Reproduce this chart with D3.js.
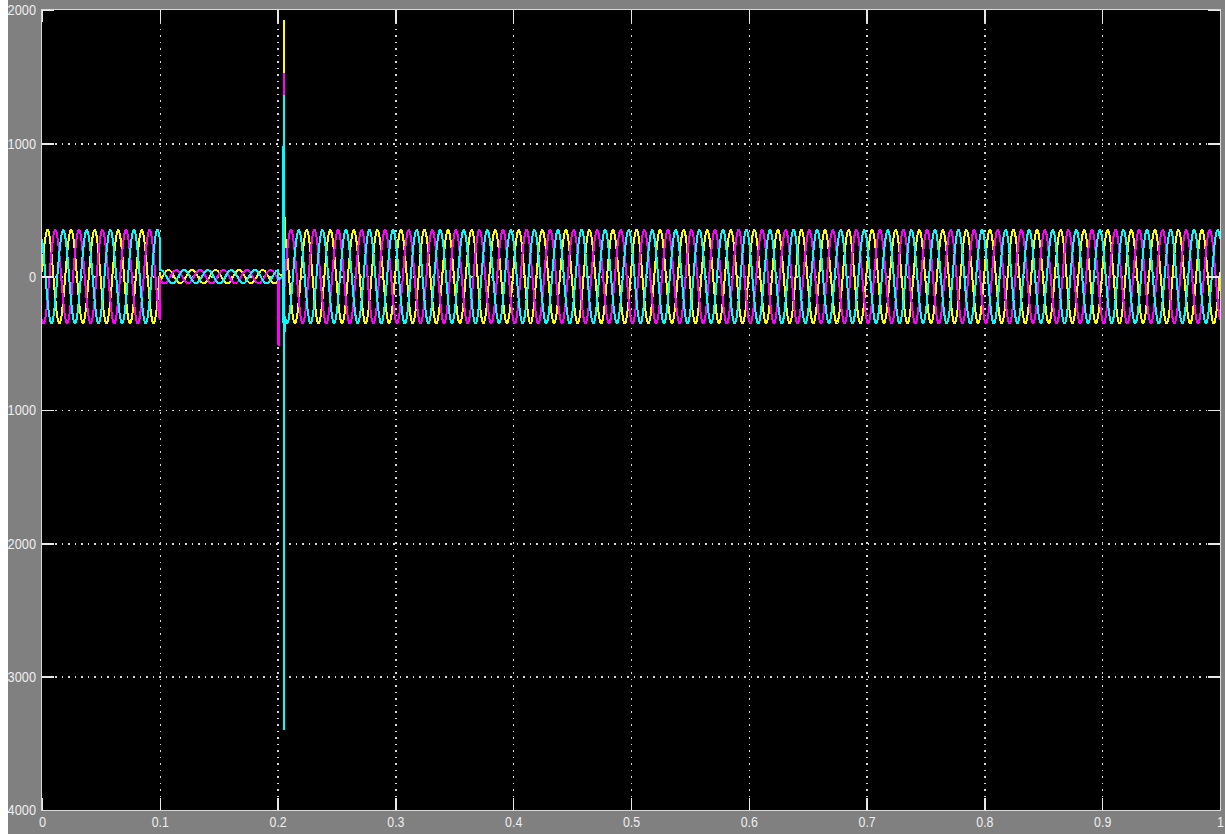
<!DOCTYPE html>
<html>
<head>
<meta charset="utf-8">
<script src="https://cdn.jsdelivr.net/npm/d3@7"></script>
<style>
  html, body { margin: 0; padding: 0; background: #ffffff; }
  svg { display: block; }
  .lbl text { font-family: "Liberation Sans", Arial, sans-serif; font-size: 15px; fill: #eeeeee; }
</style>
</head>
<body>
<svg id="chart" width="1225" height="834"></svg>
<script>
// ---------------- data ----------------
const xTicks = [0, 0.1, 0.2, 0.3, 0.4, 0.5, 0.6, 0.7, 0.8, 0.9, 1];
const xTickLabels = ["0", "0.1", "0.2", "0.3", "0.4", "0.5", "0.6", "0.7", "0.8", "0.9", "1"];
const yTicks = [2000, 1000, 0, -1000, -2000, -3000, -4000];
const yTickLabels = ["2000", "1000", "0", "1000", "2000", "3000", "4000"];

const phaseNames = ["A", "B", "C"];
const phaseColors = ["#ffff00", "#ff00ff", "#00ffff"];

// steady waveform segments: start / end time (s), peak amplitude, frequency
const segStart = [0.0, 0.1, 0.2062];
const segEnd   = [0.1, 0.2, 1.0];
const segAmp   = [350, 50, 350];
const freqHz   = 50;
// time of first positive peak of each phase, per segment (s)
const peakNormal = [0.0047, 0.0113, 0.0180];
const peakFault  = [0.0073, 0.0140, 0.0007];

// switching transient around t = 0.2 s (time, value) for each phase
const transT_A = [0.2003, 0.2046, 0.2050, 0.2052, 0.2054, 0.2057];
const transV_A = [20, 10, 600, 1925, 100, 520];
const transT_B = [0.2003, 0.2006, 0.2008, 0.2013, 0.2046, 0.2050, 0.2052, 0.2055];
const transV_B = [-150, -450, -520, -20, 0, 300, 1528, -150];
const transT_C = [0.2003, 0.2043, 0.2046, 0.2048, 0.2051, 0.2053, 0.2056];
const transV_C = [-20, 0, 475, -350, 1363, -3400, -520];

const sampleStep = 0.0001;

// ---------------- build series ----------------
function buildSeries(i) {
  const pts = [];
  const peaks = [peakNormal, peakFault, peakNormal];
  for (let s = 0; s < segStart.length; s++) {
    if (s === 2) {
      const tt = [transT_A, transT_B, transT_C][i];
      const vv = [transV_A, transV_B, transV_C][i];
      tt.forEach((t, k) => pts.push([t, vv[k]]));
    }
    const n = Math.round((segEnd[s] - segStart[s]) / sampleStep);
    for (let k = 0; k <= n; k++) {
      const t = segStart[s] + k * sampleStep;
      pts.push([t, segAmp[s] * Math.cos(2 * Math.PI * freqHz * (t - peaks[s][i]))]);
    }
  }
  return pts;
}
const series = phaseNames.map((name, i) => ({ name, color: phaseColors[i], values: buildSeries(i) }));

// ---------------- layout ----------------
const W = 1225, H = 834;
const plot = { left: 42, right: 1220, top: 10, bottom: 810 };
const svg = d3.select("#chart");

const x = d3.scaleLinear().domain([0, 1]).range([plot.left, plot.right]);
const y = d3.scaleLinear().domain([-4000, 2000]).range([plot.bottom, plot.top]);

svg.append("rect").attr("x", 0).attr("y", 0).attr("width", W).attr("height", H).attr("fill", "#808080");
svg.append("rect").attr("x", 0).attr("y", 0).attr("width", 8).attr("height", H).attr("fill", "#ffffff");

svg.append("rect")
  .attr("x", plot.left).attr("y", plot.top)
  .attr("width", plot.right - plot.left).attr("height", plot.bottom - plot.top)
  .attr("fill", "#000000");

// grid
const gridX = svg.append("g").attr("transform", `translate(0,${plot.bottom})`)
  .call(d3.axisBottom(x).tickValues(xTicks.slice(1, -1)).tickSize(-(plot.bottom - plot.top)).tickFormat(""));
const gridY = svg.append("g").attr("transform", `translate(${plot.left},0)`)
  .call(d3.axisLeft(y).tickValues(yTicks.slice(1, -1)).tickSize(-(plot.right - plot.left)).tickFormat(""));
[gridX, gridY].forEach(g => {
  g.select(".domain").remove();
  g.selectAll("line").attr("stroke", "#d8d8d8").attr("stroke-width", 1.5)
    .attr("stroke-dasharray", "1.5,5").attr("shape-rendering", "crispEdges");
});

// series
svg.append("clipPath").attr("id", "clipPlot").append("rect")
  .attr("x", plot.left).attr("y", plot.top)
  .attr("width", plot.right - plot.left).attr("height", plot.bottom - plot.top);
const line = d3.line().x(d => x(d[0])).y(d => y(d[1]));
svg.append("g").attr("clip-path", "url(#clipPlot)")
  .selectAll("path").data(series).join("path")
  .attr("d", d => line(d.values))
  .attr("fill", "none")
  .attr("stroke", d => d.color)
  .attr("stroke-width", 2)
  .attr("stroke-linejoin", "miter")
  .attr("shape-rendering", "crispEdges");

// inner tick marks on all four sides
const tickLen = 12;
const tTop = svg.append("g").attr("transform", `translate(0,${plot.top})`)
  .call(d3.axisTop(x).tickValues(xTicks).tickSize(-tickLen).tickFormat(""));
const tBot = svg.append("g").attr("transform", `translate(0,${plot.bottom})`)
  .call(d3.axisBottom(x).tickValues(xTicks).tickSize(-tickLen).tickFormat(""));
const tLeft = svg.append("g").attr("transform", `translate(${plot.left},0)`)
  .call(d3.axisLeft(y).tickValues(yTicks).tickSize(-tickLen).tickFormat(""));
const tRight = svg.append("g").attr("transform", `translate(${plot.right},0)`)
  .call(d3.axisRight(y).tickValues(yTicks).tickSize(-tickLen).tickFormat(""));
[tTop, tBot, tLeft, tRight].forEach(g => {
  g.select(".domain").remove();
  g.selectAll("line").attr("stroke", "#e8e8e8").attr("stroke-width", 1.5).attr("shape-rendering", "crispEdges");
});

// frame
svg.append("rect")
  .attr("x", plot.left - 0.5).attr("y", plot.top - 0.5)
  .attr("width", plot.right - plot.left + 1).attr("height", plot.bottom - plot.top + 1)
  .attr("fill", "none").attr("stroke", "#d8d8d8").attr("stroke-width", 1.5)
  .attr("shape-rendering", "crispEdges");

// tick labels (narrow scope font emulated with textLength)
const digitW = 7.1;
const axL = svg.append("g").attr("class", "lbl").attr("transform", `translate(${plot.left},0)`)
  .call(d3.axisLeft(y).tickValues(yTicks).tickSize(0).tickPadding(6)
    .tickFormat((d, i) => yTickLabels[i]));
axL.select(".domain").remove();
const axB = svg.append("g").attr("class", "lbl").attr("transform", `translate(0,${plot.bottom})`)
  .call(d3.axisBottom(x).tickValues(xTicks).tickSize(0).tickPadding(6)
    .tickFormat((d, i) => xTickLabels[i]));
axB.select(".domain").remove();
svg.selectAll(".lbl text").each(function () {
  const s = d3.select(this).text();
  const w = s.replace(".", "").length * digitW + (s.includes(".") ? 3 : 0);
  d3.select(this).attr("textLength", w).attr("lengthAdjust", "spacingAndGlyphs");
});
</script>
</body>
</html>
